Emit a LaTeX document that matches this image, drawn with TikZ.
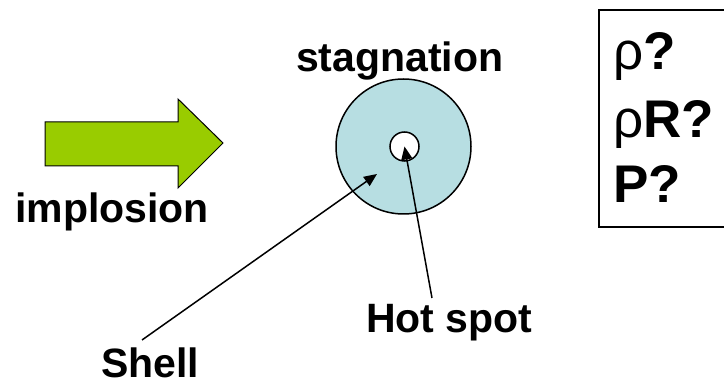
\documentclass[tikz,border=0pt]{standalone}
\usepackage{fontspec}
\setmainfont{Liberation Sans}
\usetikzlibrary{arrows.meta}
\definecolor{shellblue}{RGB}{183,222,226}
\definecolor{implgreen}{RGB}{153,204,0}
\begin{document}
\begin{tikzpicture}[x=1pt,y=-1pt,
  lbl/.style={font=\fontsize{41}{49}\selectfont\bfseries, anchor=base west, inner sep=0pt},
  qlbl/.style={font=\fontsize{53}{60}\selectfont\bfseries, anchor=base west, inner sep=0pt},
  pointer/.style={line width=1.5pt, -{Triangle[length=13pt,width=11pt]}},
  ring/.style={circle, draw, line width=1.5pt, inner sep=0pt}]
\useasboundingbox (0,0) rectangle (724,382);
\fill[white] (0,0) rectangle (724,382);
% implosion arrow
\draw[fill=implgreen, line width=1pt, line join=miter] (45,122) -- (178,122) -- (178,99) -- (223,143) -- (178,188) -- (178,166) -- (45,166) -- cycle;
% shell and hot spot
\node[ring, fill=shellblue, minimum size=135pt] (shell) at (403.5,146.5) {};
\node[ring, fill=white, minimum size=29pt] (hot) at (404.5,146.5) {};
% labels
\node[lbl] (impl) at (15,223) {implosion};
\node[lbl] (stag) at (296,72) {stagnation};
\node[lbl, text depth=0pt] (shelllbl) at (101,377.5) {Shell};
\node[lbl] (hotlbl) at (366,333) {Hot spot};
% pointers
\coordinate (shellstart) at (142,340);
\coordinate (shelltip) at (377,174);
\coordinate (hotstart) at (432,298);
\draw[pointer] (shellstart) -- (shelltip);
\draw[pointer] (hotstart) -- (hot.center);
% question box
\node[draw, line width=2pt, anchor=north west, minimum width=160pt, minimum height=217pt, inner sep=0pt] (qbox) at (598,9) {};
\node[qlbl] (q1) at (613,70) {{\mdseries ρ}?};
\node[qlbl] (q2) at (613,138) {{\mdseries ρ}R?};
\node[qlbl] (q3) at (613,203) {P?};
\end{tikzpicture}
\end{document}
